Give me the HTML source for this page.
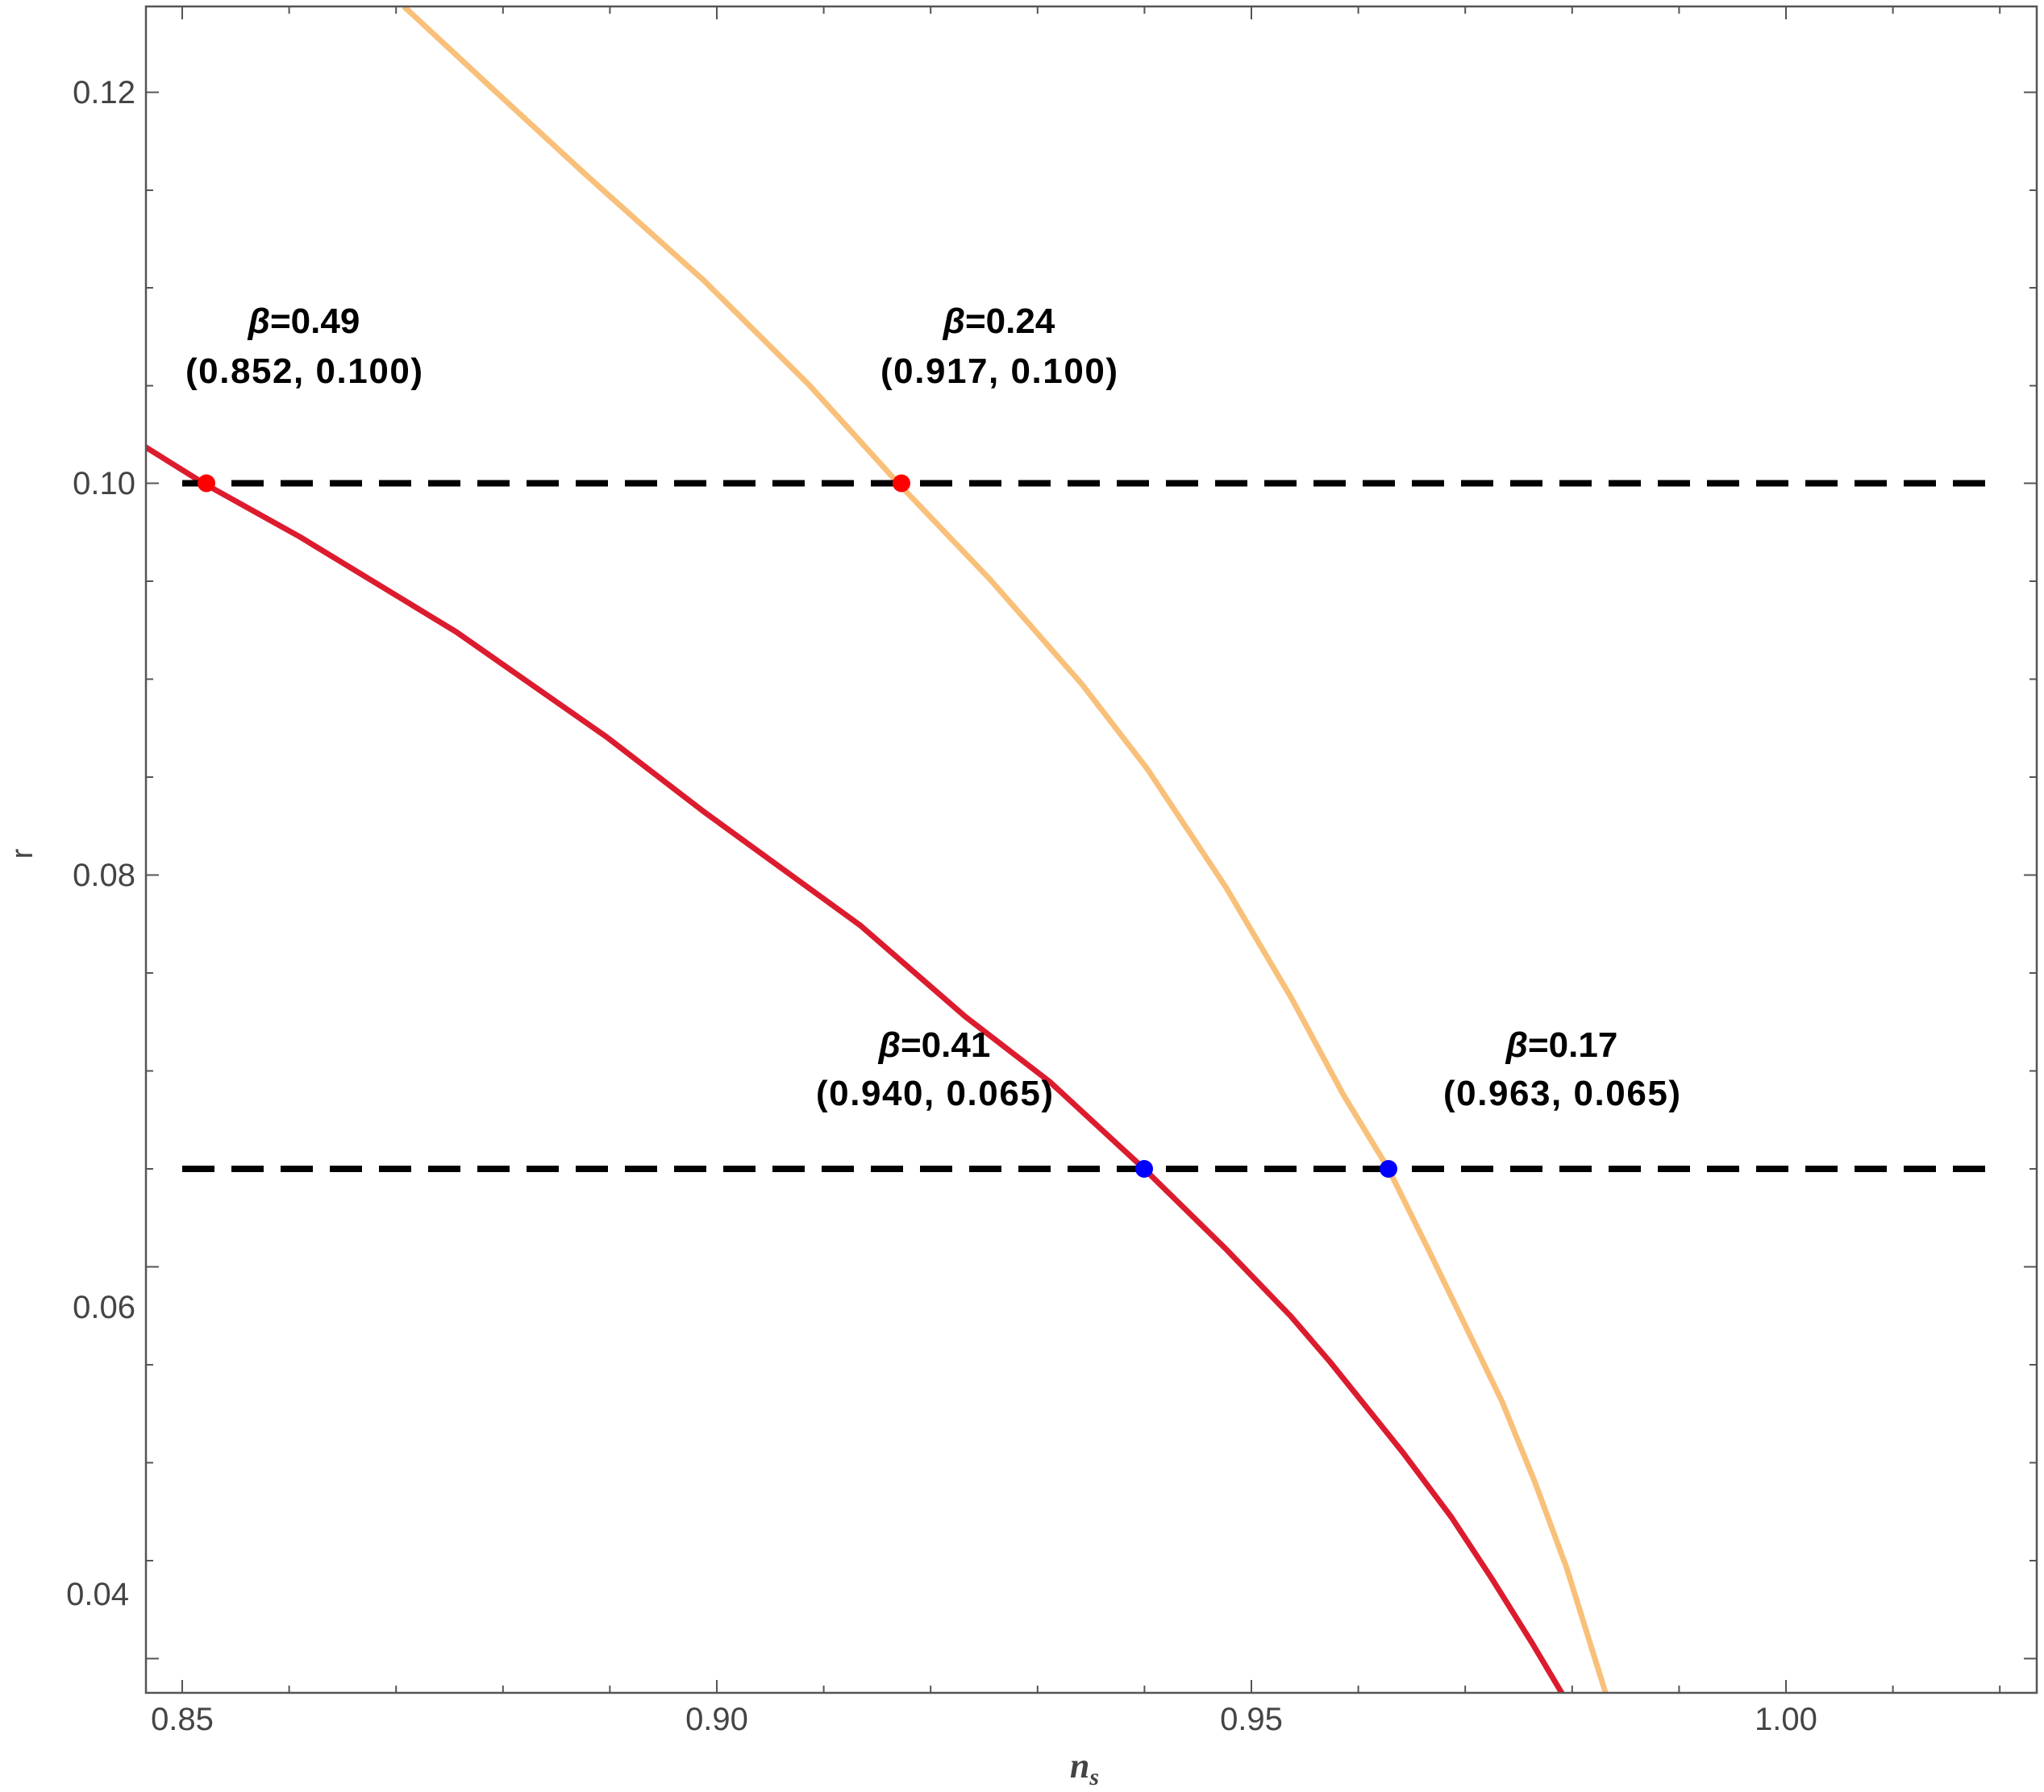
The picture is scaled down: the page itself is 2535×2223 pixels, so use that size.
<!DOCTYPE html>
<html><head><meta charset="utf-8"><style>html,body{margin:0;padding:0;background:#fff}svg{display:block}</style></head>
<body>
<svg width="2535" height="2223" viewBox="0 0 2535 2223" xmlns="http://www.w3.org/2000/svg" font-family="Liberation Sans, Arial, sans-serif">
<defs><clipPath id="c"><rect x="181" y="8" width="2345" height="2092"/></clipPath></defs>
<rect width="2535" height="2223" fill="#fff"/>
<g clip-path="url(#c)" fill="none" stroke-linejoin="round">
<polyline stroke="#f9c07a" stroke-width="7" points="501,8 614,113 728,218 873,348 1003,477 1114,599.5 1229,720 1342,849 1423,954 1520,1100 1601,1237 1666,1358 1722,1450 1770,1547 1820,1650 1863,1739 1903,1837 1943,1945 1990,2096 1992,2102"/>
<polyline stroke="#dc1c2e" stroke-width="7" points="178,553 252.5,599.5 372,666 566,784 752,914 873,1007 1067,1148 1197,1261 1302,1342 1419,1450 1520,1549 1601,1633 1650,1690 1740,1802 1800,1882 1850,1958 1900,2038 1938,2102"/>
<line x1="226" y1="599.5" x2="2474" y2="599.5" stroke="#000" stroke-width="8" stroke-dasharray="40,21"/>
<line x1="226" y1="1450" x2="2474" y2="1450" stroke="#000" stroke-width="8" stroke-dasharray="40,21"/>
</g>
<circle cx="256" cy="599.5" r="11" fill="#f00"/>
<circle cx="1118" cy="599.5" r="11" fill="#f00"/>
<circle cx="1419" cy="1450" r="11" fill="#00f"/>
<circle cx="1722" cy="1450" r="11" fill="#00f"/>
<rect x="181" y="8" width="2345" height="2092" fill="none" stroke="#555" stroke-width="2.5"/>
<g stroke="#555" stroke-width="2">
<path d="M226,2100v-16M889,2100v-16M1552,2100v-16M2215,2100v-16M226,8v16M889,8v16M1552,8v16M2215,8v16"/>
<path d="M358.6,2100v-9M491.2,2100v-9M623.8,2100v-9M756.4,2100v-9M1021.6,2100v-9M1154.2,2100v-9M1286.8,2100v-9M1419.4,2100v-9M1684.6,2100v-9M1817.2,2100v-9M1949.8,2100v-9M2082.4,2100v-9M2347.6,2100v-9M2480.2,2100v-9"/>
<path d="M358.6,8v9M491.2,8v9M623.8,8v9M756.4,8v9M1021.6,8v9M1154.2,8v9M1286.8,8v9M1419.4,8v9M1684.6,8v9M1817.2,8v9M1949.8,8v9M2082.4,8v9M2347.6,8v9M2480.2,8v9"/>
<path d="M181,114.5h16M181,599.5h16M181,1085.5h16M181,1571.5h16M181,2057.5h16M2526,114.5h-16M2526,599.5h-16M2526,1085.5h-16M2526,1571.5h-16M2526,2057.5h-16"/>
<path d="M181,236h9M181,357h9M181,478.5h9M181,721h9M181,842.5h9M181,964h9M181,1207h9M181,1328.5h9M181,1450h9M181,1693h9M181,1814.5h9M181,1936h9"/>
<path d="M2526,236h-9M2526,357h-9M2526,478.5h-9M2526,721h-9M2526,842.5h-9M2526,964h-9M2526,1207h-9M2526,1328.5h-9M2526,1450h-9M2526,1693h-9M2526,1814.5h-9M2526,1936h-9"/>
</g>
<g fill="#444" font-size="40" text-anchor="end">
<text x="168" y="128">0.12</text>
<text x="168" y="613">0.10</text>
<text x="168" y="1099">0.08</text>
<text x="168" y="1635">0.06</text>
<text x="160" y="1991">0.04</text>
</g>
<g fill="#444" font-size="40" text-anchor="middle">
<text x="226" y="2146">0.85</text>
<text x="889" y="2146">0.90</text>
<text x="1552" y="2146">0.95</text>
<text x="2215" y="2146">1.00</text>
</g>
<text x="40" y="1059" fill="#444" font-size="38" text-anchor="middle" transform="rotate(-90 40 1059)">r</text>
<text x="1345" y="2205" fill="#444" font-size="44" font-style="italic" font-weight="bold" font-family="Liberation Serif, serif" text-anchor="middle">n<tspan font-size="30" dy="9">s</tspan></text>
<g font-size="44" font-weight="bold" fill="#000" text-anchor="middle">
<text x="377" y="413"><tspan font-style="italic">β</tspan>=0.49</text>
<text x="377" y="475" textLength="294">(0.852, 0.100)</text>
<text x="1239" y="413"><tspan font-style="italic">β</tspan>=0.24</text>
<text x="1239" y="475" textLength="294">(0.917, 0.100)</text>
<text x="1159" y="1311"><tspan font-style="italic">β</tspan>=0.41</text>
<text x="1159" y="1371" textLength="294">(0.940, 0.065)</text>
<text x="1937" y="1311"><tspan font-style="italic">β</tspan>=0.17</text>
<text x="1937" y="1371" textLength="294">(0.963, 0.065)</text>
</g>
</svg>
</body></html>
